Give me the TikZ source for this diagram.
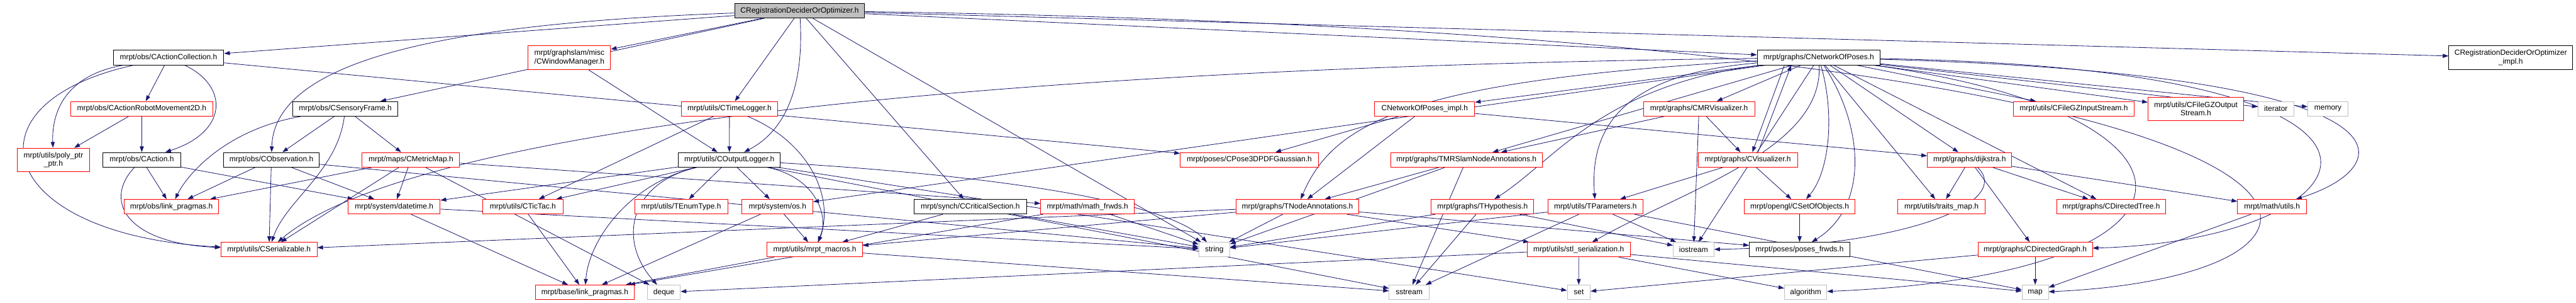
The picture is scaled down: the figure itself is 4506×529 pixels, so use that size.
\documentclass[tikz,border=0pt]{standalone}
\usepackage{fontspec}
\setmainfont{Liberation Sans}
\usepackage{xcolor}
\usepackage{tikz}
\usetikzlibrary{arrows.meta, backgrounds}
\definecolor{edgeblue}{RGB}{25,25,112}
\definecolor{sysgray}{RGB}{191,191,191}
\newcommand{\hdrfont}{\fontsize{13.2}{14.6}\selectfont}

\begin{document}
\begin{tikzpicture}[
  x=1pt, y=-1pt,
  >={Triangle[length=10pt, width=7pt]},
  hdr/.style={rectangle, draw, line width=1pt, fill=white, minimum height=25.5pt, inner xsep=3pt, inner ysep=2pt, font=\hdrfont, align=center},
  doc/.style={hdr, draw=black},
  cut/.style={hdr, draw=red},
  sys/.style={hdr, draw=sysgray},
  top/.style={hdr, draw=black, fill=sysgray},
  tall/.style={minimum height=41pt},
  arrow/.style={->, draw=edgeblue, line width=0.9pt}
]
  \useasboundingbox (0,0) rectangle (4506,529);

  % row 0
  \node[top, minimum width=227.5pt] (root) at (1398.75,18.7) {CRegistrationDeciderOrOptimizer.h};

  % row 1
  \node[doc, minimum width=193.5pt] (actcoll) at (294.75,100.6) {mrpt/obs/CActionCollection.h};
  \node[cut, tall, minimum width=144pt] (winmgr) at (996,100.6) {mrpt/graphslam/misc\\/CWindowManager.h};
  \node[doc, minimum width=215.3pt] (netposes) at (3181.3,100.6) {mrpt/graphs/CNetworkOfPoses.h};
  \node[doc, tall, minimum width=216.5pt] (deciderimpl) at (4391.75,100.6) {CRegistrationDeciderOrOptimizer\\\_impl.h};

  % row 2
  \node[cut, minimum width=248pt] (robotmove) at (248,190) {mrpt/obs/CActionRobotMovement2D.h};
  \node[doc, minimum width=183pt] (sensframe) at (604,190) {mrpt/obs/CSensoryFrame.h};
  \node[cut, minimum width=169pt] (timelog) at (1276,190) {mrpt/utils/CTimeLogger.h};
  \node[cut, minimum width=175pt] (netimpl) at (2492,190) {CNetworkOfPoses\_impl.h};
  \node[cut, minimum width=195pt] (mrvis) at (2972,190) {mrpt/graphs/CMRVisualizer.h};
  \node[cut, minimum width=211pt] (gzin) at (3627.5,190) {mrpt/utils/CFileGZInputStream.h};
  \node[cut, tall, minimum width=167pt] (gzout) at (3841,190) {mrpt/utils/CFileGZOutput\\Stream.h};
  \node[sys, minimum width=62.5pt] (iterator) at (3981,190) {iterator};
  \node[sys, minimum width=70pt] (memory) at (4072,190) {memory};

  % row 3
  \node[cut, tall, minimum width=127pt] (polyptr) at (93.5,279) {mrpt/utils/poly\_ptr\\\_ptr.h};
  \node[doc, minimum width=136pt] (action) at (248,279) {mrpt/obs/CAction.h};
  \node[doc, minimum width=167.5pt] (observ) at (474.75,279) {mrpt/obs/CObservation.h};
  \node[cut, minimum width=170.5pt] (metricmap) at (718.75,279) {mrpt/maps/CMetricMap.h};
  \node[doc, minimum width=178.4pt] (outlog) at (1275.8,279) {mrpt/utils/COutputLogger.h};
  \node[cut, minimum width=241pt] (posegauss) at (2185.25,279) {mrpt/poses/CPose3DPDFGaussian.h};
  \node[cut, minimum width=265.2pt] (mrslamannot) at (2565.2,279) {mrpt/graphs/TMRSlamNodeAnnotations.h};
  \node[cut, minimum width=173.5pt] (visualizer) at (3057.25,279) {mrpt/graphs/CVisualizer.h};
  \node[cut, minimum width=147.6pt] (dijkstra) at (3445.2,279) {mrpt/graphs/dijkstra.h};

  % row 4
  \node[cut, minimum width=165.6pt] (obslink) at (299.8,361) {mrpt/obs/link\_pragmas.h};
  \node[cut, minimum width=161pt] (datetime) at (689.5,361) {mrpt/system/datetime.h};
  \node[cut, minimum width=141pt] (tictac) at (914.5,361) {mrpt/utils/CTicTac.h};
  \node[cut, minimum width=163pt] (enumtype) at (1191.5,361) {mrpt/utils/TEnumType.h};
  \node[cut, minimum width=124pt] (sysos) at (1360,361) {mrpt/system/os.h};
  \node[doc, minimum width=197.3pt] (critsec) at (1697.35,361) {mrpt/synch/CCriticalSection.h};
  \node[cut, minimum width=163.5pt] (mathfrwds) at (1902.25,361) {mrpt/math/math\_frwds.h};
  \node[cut, minimum width=215pt] (nodeannot) at (2269.5,361) {mrpt/graphs/TNodeAnnotations.h};
  \node[cut, minimum width=179.4pt] (hypothesis) at (2593.3,361) {mrpt/graphs/THypothesis.h};
  \node[cut, minimum width=166.4pt] (tparams) at (2790.8,361) {mrpt/utils/TParameters.h};
  \node[cut, minimum width=194pt] (setobjs) at (3148,361) {mrpt/opengl/CSetOfObjects.h};
  \node[cut, minimum width=152pt] (traitsmap) at (3396,361) {mrpt/utils/traits\_map.h};
  \node[cut, minimum width=190pt] (dirtree) at (3693,361) {mrpt/graphs/CDirectedTree.h};
  \node[cut, minimum width=120.5pt] (mathutils) at (3974.25,361) {mrpt/math/utils.h};

  % row 5
  \node[cut, minimum width=168pt] (serial) at (470.5,436) {mrpt/utils/CSerializable.h};
  \node[cut, minimum width=166.5pt] (macros) at (1425.25,436) {mrpt/utils/mrpt\_macros.h};
  \node[sys, minimum width=54pt] (stdstring) at (2124,436) {string};
  \node[cut, minimum width=181pt] (stlser) at (2761.5,436) {mrpt/utils/stl\_serialization.h};
  \node[sys, minimum width=71.2pt] (iostream) at (2962.4,436) {iostream};
  \node[doc, minimum width=175.7pt] (posesfrwds) at (3147.85,436) {mrpt/poses/poses\_frwds.h};
  \node[cut, minimum width=200pt] (dirgraph) at (3560,436) {mrpt/graphs/CDirectedGraph.h};

  % row 6
  \node[cut, minimum width=172pt] (baselink) at (1023,510.5) {mrpt/base/link\_pragmas.h};
  \node[sys, minimum width=57.4pt] (deque) at (1161.3,510.5) {deque};
  \node[sys, minimum width=70pt] (sstream) at (2465,510.5) {sstream};
  \node[sys, minimum width=40.2pt] (stdset) at (2761.6,510.5) {set};
  \node[sys, minimum width=74.1pt] (algorithm) at (3158.45,510.5) {algorithm};
  \node[sys, minimum width=46pt] (stdmap) at (3560,510.5) {map};

  \begin{scope}[on background layer]
  \fill[white] (0,0) rectangle (4506,529);

  % root
  \draw[arrow] (root) -- (actcoll);
  \draw[arrow] (root) -- (sensframe);
  \draw[arrow] (root) .. controls (800,40) and (480,100) .. (observ);
  \draw[arrow] (root) -- (winmgr);
  \draw[arrow] (root) -- (timelog);
  \draw[arrow] (root) .. controls (1405,120) and (1390,220) .. (outlog);
  \draw[arrow] (root) -- (critsec);
  \draw[arrow] (root) -- (stdstring);
  \draw[arrow] (root) -- (netposes);
  \draw[arrow] (root) -- (deciderimpl);
  \draw[arrow] (root) .. controls (4250,60) and (4250,480) .. (stdmap);

  % obs
  \draw[arrow] (actcoll) -- (robotmove);
  \draw[arrow] (actcoll) .. controls (120,130) and (90,190) .. (polyptr);
  \draw[arrow] (actcoll) .. controls (400,150) and (400,230) .. (action);
  \draw[arrow] (actcoll) .. controls (-70,180) and (-10,410) .. (serial);
  \draw[arrow] (actcoll) -- (posegauss);
  \draw[arrow] (robotmove) -- (polyptr);
  \draw[arrow] (robotmove) -- (action);
  \draw[arrow] (sensframe) .. controls (400,225) and (330,300) .. (obslink);
  \draw[arrow] (sensframe) -- (observ);
  \draw[arrow] (sensframe) .. controls (590,300) and (500,350) .. (serial);
  \draw[arrow] (sensframe) -- (metricmap);
  \draw[arrow] (action) -- (obslink);
  \draw[arrow] (action) .. controls (180,350) and (220,425) .. (serial);
  \draw[arrow] (action) -- (datetime);
  \draw[arrow] (observ) -- (obslink);
  \draw[arrow] (observ) -- (serial);
  \draw[arrow] (observ) -- (datetime);
  \draw[arrow] (observ) -- (stdstring);
  \draw[arrow] (metricmap) -- (obslink);
  \draw[arrow] (metricmap) -- (serial);
  \draw[arrow] (metricmap) -- (datetime);
  \draw[arrow] (metricmap) -- (deque);
  \draw[arrow] (metricmap) -- (mathfrwds);

  % loggers
  \draw[arrow] (winmgr) -- (outlog);
  \draw[arrow] (timelog) -- (outlog);
  \draw[arrow] (timelog) -- (tictac);
  \draw[arrow] (timelog) .. controls (1420,250) and (1460,350) .. (macros);
  \draw[arrow] (outlog) -- (datetime);
  \draw[arrow] (outlog) -- (tictac);
  \draw[arrow] (outlog) -- (enumtype);
  \draw[arrow] (outlog) -- (sysos);
  \draw[arrow] (outlog) .. controls (1100,320) and (1030,420) .. (baselink);
  \draw[arrow] (outlog) .. controls (1100,320) and (1080,420) .. (deque);
  \draw[arrow] (outlog) .. controls (1430,310) and (1450,380) .. (macros);
  \draw[arrow] (outlog) .. controls (1800,310) and (2050,360) .. (stdstring);
  \draw[arrow] (outlog) -- (sstream);
  \draw[arrow] (outlog) -- (stdset);
  \draw[arrow] (critsec) -- (macros);
  \draw[arrow] (critsec) -- (stdstring);
  \draw[arrow] (sysos) -- (macros);
  \draw[arrow] (sysos) -- (baselink);
  \draw[arrow] (macros) -- (baselink);
  \draw[arrow] (macros) -- (sstream);
  \draw[arrow] (datetime) -- (baselink);
  \draw[arrow] (datetime) -- (stdstring);
  \draw[arrow] (tictac) -- (baselink);
  \draw[arrow] (mathfrwds) -- (baselink);
  \draw[arrow] (mathfrwds) -- (stdstring);

  % graphs
  \draw[arrow] (nodeannot) -- (stdstring);
  \draw[arrow] (nodeannot) -- (serial);
  \draw[arrow] (nodeannot) -- (macros);
  \draw[arrow] (nodeannot) -- (stlser);
  \draw[arrow] (nodeannot) -- (posesfrwds);
  \draw[arrow] (netimpl) -- (posegauss);
  \draw[arrow] (netimpl) -- (nodeannot);
  \draw[arrow] (netimpl) -- (dijkstra);
  \draw[arrow] (mrslamannot) -- (nodeannot);
  \draw[arrow] (mrslamannot) -- (stdstring);
  \draw[arrow] (mrslamannot) -- (sstream);
  \draw[arrow] (mrvis) -- (mrslamannot);
  \draw[arrow] (mrvis) -- (visualizer);
  \draw[arrow] (mrvis) -- (iostream);
  \draw[arrow] (visualizer) -- (tparams);
  \draw[arrow] (visualizer) -- (setobjs);
  \draw[arrow] ([xshift=18pt]visualizer.north) -- ([xshift=-48pt]netposes.south);
  \draw[arrow] (hypothesis) -- (sstream);
  \draw[arrow] (hypothesis) -- (stdstring);
  \draw[arrow] (hypothesis) -- (iostream);
  \draw[arrow] (tparams) -- (sstream);
  \draw[arrow] (tparams) -- (stdstring);
  \draw[arrow] (tparams) -- (iostream);
  \draw[arrow] (tparams) -- (stdmap);
  \draw[arrow] (stlser) -- (stdset);
  \draw[arrow] (stlser) -- (deque);
  \draw[arrow] (stlser) -- (stdmap);
  \draw[arrow] (stlser) -- (algorithm);
  \draw[arrow] (setobjs) -- (posesfrwds);
  \draw[arrow] (dijkstra) -- (traitsmap);
  \draw[arrow] (dijkstra) -- (dirtree);
  \draw[arrow] (dijkstra) -- (dirgraph);
  \draw[arrow] (dijkstra) -- (mathutils);
  \draw[arrow] (dijkstra) .. controls (3520,350) and (3350,430) .. (iostream);
  \draw[arrow] (dirgraph) -- (stdmap);
  \draw[arrow] (dirgraph) -- (stdset);
  \draw[arrow] (mathutils) -- (stdmap);

  % CNetworkOfPoses
  \draw[arrow] (netposes) .. controls (1600,120) and (700,240) .. (serial);
  \draw[arrow] (netposes) -- (sysos);
  \draw[arrow] (netposes) -- (netimpl);
  \draw[arrow] (netposes) -- (mrslamannot);
  \draw[arrow] (netposes) .. controls (2450,140) and (2330,220) .. (nodeannot);
  \draw[arrow] (netposes) .. controls (2800,150) and (2720,280) .. (hypothesis);
  \draw[arrow] (netposes) .. controls (2840,130) and (2780,220) .. (tparams);
  \draw[arrow] (netposes) -- (iostream);
  \draw[arrow] (netposes) -- (mrvis);
  \draw[arrow] ([xshift=-60pt]netposes.south) -- ([xshift=8pt]visualizer.north);
  \draw[arrow] (netposes) .. controls (3210,200) and (3200,300) .. (setobjs);
  \draw[arrow] (netposes) .. controls (3260,220) and (3270,360) .. (posesfrwds);
  \draw[arrow] (netposes) -- (traitsmap);
  \draw[arrow] (netposes) -- (dijkstra);
  \draw[arrow] (netposes) -- (dirtree);
  \draw[arrow] (netposes) -- (gzin);
  \draw[arrow] (netposes) -- (gzout);
  \draw[arrow] (netposes) -- (iterator);
  \draw[arrow] (netposes) -- (memory);
  \draw[arrow] (netposes) .. controls (4350,120) and (4150,420) .. (dirgraph);
  \draw[arrow] (netposes) .. controls (4250,130) and (4200,290) .. (mathutils);
  \draw[arrow] (netposes) .. controls (3900,200) and (3900,480) .. (algorithm);
  \draw[arrow] (netposes) .. controls (3190,260) and (2950,330) .. (stlser);
  \end{scope}
\end{tikzpicture}
\end{document}
